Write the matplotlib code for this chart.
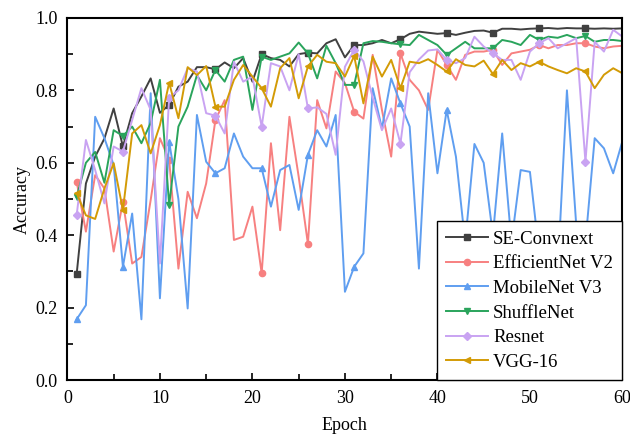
import matplotlib
matplotlib.use("Agg")
import matplotlib.pyplot as plt
from matplotlib.ticker import MultipleLocator, FormatStrFormatter

epochs = list(range(1, 61))

se_convnext = [0.293, 0.543, 0.617, 0.667, 0.75, 0.645, 0.737, 0.783, 0.833, 0.738, 0.76,
               0.81, 0.824, 0.864, 0.864, 0.858, 0.877, 0.861, 0.889, 0.824, 0.90, 0.889, 0.884,
               0.866, 0.90, 0.904, 0.902, 0.93, 0.941, 0.891, 0.925, 0.925, 0.93, 0.939, 0.93,
               0.941, 0.956, 0.962, 0.959, 0.956, 0.958, 0.953, 0.959, 0.964, 0.965, 0.959, 0.97,
               0.97, 0.968, 0.97, 0.971, 0.972, 0.97, 0.972, 0.971, 0.971, 0.97, 0.971, 0.97, 0.971]

efficientnet = [0.548, 0.41, 0.566, 0.529, 0.355, 0.493, 0.322, 0.34, 0.497, 0.668, 0.608,
                0.308, 0.52, 0.447, 0.543, 0.718, 0.773, 0.387, 0.396, 0.479, 0.295, 0.654, 0.414,
                0.727, 0.562, 0.376, 0.773, 0.695, 0.852, 0.82, 0.741, 0.722, 0.898, 0.746, 0.617,
                0.902, 0.829, 0.80, 0.746, 0.912, 0.87, 0.829, 0.898, 0.907, 0.907, 0.912, 0.87,
                0.902, 0.907, 0.912, 0.925, 0.916, 0.925, 0.925, 0.93, 0.93, 0.921, 0.916, 0.921, 0.923]

mobilenet = [0.168, 0.207, 0.727, 0.668, 0.594, 0.313, 0.46, 0.168, 0.792, 0.226, 0.658,
             0.50, 0.198, 0.732, 0.603, 0.571, 0.585, 0.681, 0.617, 0.585, 0.585, 0.479, 0.58,
             0.594, 0.47, 0.622, 0.69, 0.645, 0.732, 0.244, 0.313, 0.35, 0.806, 0.695, 0.833,
             0.764, 0.70, 0.308, 0.792, 0.571, 0.746, 0.617, 0.38, 0.652, 0.60, 0.40, 0.681,
             0.38, 0.58, 0.575, 0.35, 0.42, 0.30, 0.80, 0.43, 0.38, 0.668, 0.64, 0.571, 0.66]

shufflenet = [0.506, 0.60, 0.63, 0.545, 0.69, 0.674, 0.70, 0.654, 0.71, 0.829, 0.483,
              0.70, 0.755, 0.842, 0.80, 0.856, 0.824, 0.884, 0.893, 0.746, 0.893, 0.884, 0.893,
              0.902, 0.932, 0.902, 0.833, 0.923, 0.875, 0.815, 0.815, 0.93, 0.936, 0.934, 0.93,
              0.927, 0.925, 0.953, 0.939, 0.925, 0.898, 0.916, 0.934, 0.916, 0.916, 0.916, 0.939,
              0.934, 0.925, 0.953, 0.939, 0.948, 0.945, 0.953, 0.944, 0.95, 0.934, 0.939, 0.939, 0.936]

resnet = [0.456, 0.663, 0.58, 0.488, 0.645, 0.631, 0.718, 0.806, 0.746, 0.322, 0.78,
          0.80, 0.861, 0.852, 0.737, 0.73, 0.681, 0.879, 0.824, 0.838, 0.70, 0.875, 0.866,
          0.80, 0.90, 0.75, 0.753, 0.735, 0.622, 0.865, 0.912, 0.88, 0.78, 0.69, 0.75,
          0.653, 0.85, 0.885, 0.91, 0.913, 0.884, 0.875, 0.889, 0.948, 0.921, 0.902, 0.884,
          0.884, 0.829, 0.907, 0.93, 0.944, 0.916, 0.93, 0.944, 0.603, 0.934, 0.907, 0.967, 0.948]

vgg16 = [0.516, 0.455, 0.445, 0.529, 0.599, 0.47, 0.681, 0.704, 0.626, 0.704, 0.821,
         0.723, 0.864, 0.842, 0.867, 0.755, 0.755, 0.829, 0.87, 0.838, 0.806, 0.755, 0.861,
         0.889, 0.778, 0.866, 0.898, 0.879, 0.875, 0.838, 0.895, 0.764, 0.893, 0.838, 0.884,
         0.806, 0.879, 0.875, 0.886, 0.87, 0.852, 0.886, 0.87, 0.866, 0.882, 0.845, 0.884,
         0.856, 0.875, 0.866, 0.879, 0.866, 0.856, 0.847, 0.861, 0.852, 0.806, 0.843, 0.861, 0.847]

labels = ["SE-Convnext", "EfficientNet V2", "MobileNet V3", "ShuffleNet", "Resnet", "VGG-16"]
colors = ["#404040", "#f78080", "#5f9ef0", "#2aa45c", "#c9a3f2", "#d39b06"]
markers = ["s", "o", "^", "v", "D", "<"]
series = [se_convnext, efficientnet, mobilenet, shufflenet, resnet, vgg16]

plt.rcParams['font.family'] = ['Liberation Serif', 'DejaVu Serif']
plt.rcParams['font.size'] = 13

fig = plt.figure(figsize=(6.3, 4.36), dpi=100)
ax = fig.add_axes([0.107, 0.128, 0.881, 0.831])

for data, lab, col, mk in zip(series, labels, colors, markers):
    ms = 4.5 if mk != "D" else 4
    ax.plot(epochs, data, color=col, lw=1.4, marker=mk, markersize=ms,
            markevery=slice(0, 60, 5), label=lab)

ax.set_xlim(0, 60)
ax.set_ylim(0, 1.0)
ax.xaxis.set_major_locator(MultipleLocator(10))
ax.xaxis.set_minor_locator(MultipleLocator(5))
ax.yaxis.set_major_locator(MultipleLocator(0.2))
ax.yaxis.set_minor_locator(MultipleLocator(0.1))
ax.yaxis.set_major_formatter(FormatStrFormatter('%.1f'))
ax.tick_params(which='both', direction='in', width=1.2, labelsize=13, pad=7)
ax.tick_params(which='major', length=5)
ax.tick_params(which='minor', length=4)
for s in ax.spines.values():
    s.set_linewidth(1.5)

ax.set_xlabel("Epoch", fontsize=13, labelpad=7)
ax.set_ylabel("Accuracy", fontsize=13, labelpad=3)

leg = ax.legend(loc='lower right', fancybox=False, edgecolor='black', framealpha=1,
                borderaxespad=0, handlelength=2.2, labelspacing=0.4, borderpad=0.5,
                handletextpad=0.3, fontsize=13.5)
leg.get_frame().set_linewidth(1.0)

fig.savefig("out.png", dpi=100)
